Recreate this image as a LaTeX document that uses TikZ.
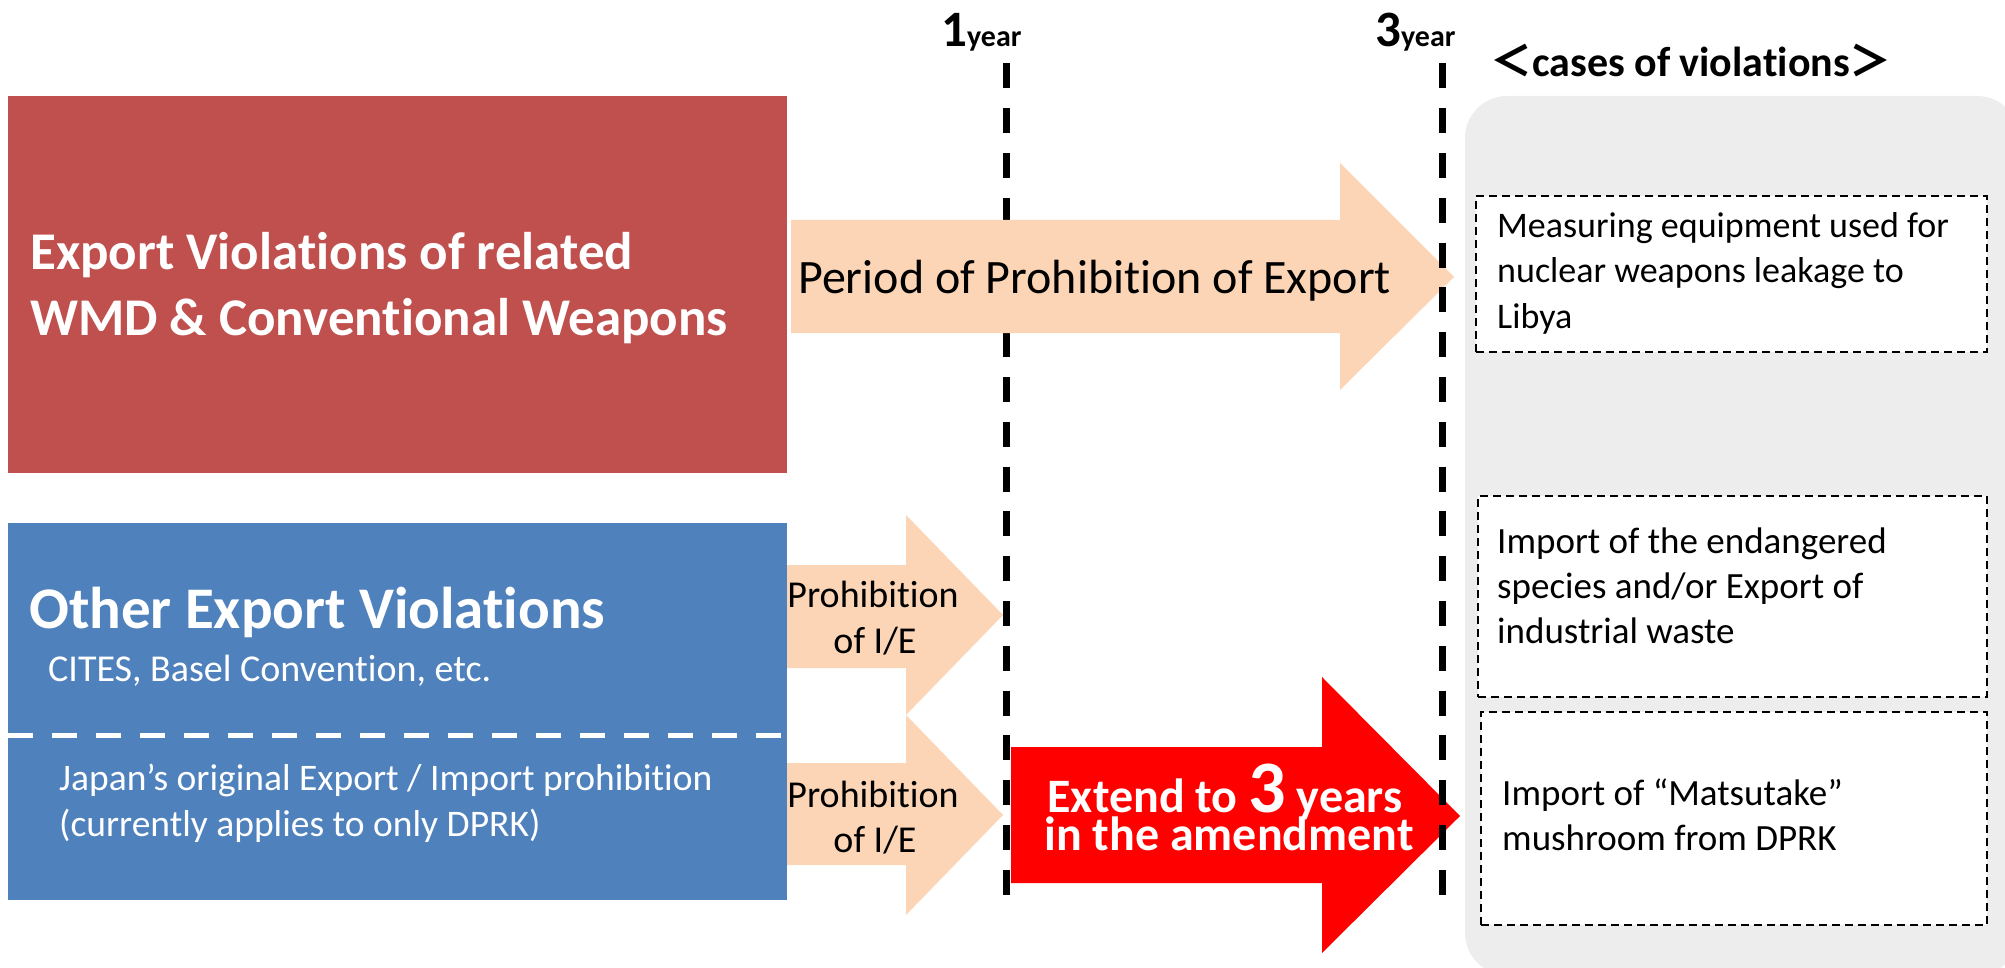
\documentclass[tikz,border=0pt]{standalone}
\usepackage{fontspec}
\setmainfont{Carlito}[RawFeature={-liga}]
\newfontfamily\cjkfont{Noto Sans CJK JP}
\definecolor{wmdred}{HTML}{C0504D}
\definecolor{otherblue}{HTML}{4F81BD}
\definecolor{peach}{HTML}{FBD5B5}
\definecolor{panelgray}{HTML}{EDEDED}
\definecolor{brightred}{HTML}{FF0000}
\newcommand\pxfont[1]{\fontsize{#1pt}{#1pt}\selectfont}
\begin{document}
\begin{tikzpicture}[x=1pt,y=-1pt,
  blockbox/.style={inner sep=0pt, outer sep=0pt, anchor=north west},
  txt/.style={inner sep=0pt, anchor=base west},
  ctxt/.style={inner sep=0pt, anchor=base},
  casebox/.style={blockbox, fill=white, draw=black, line width=1.8pt, dash pattern=on 8pt off 5pt},
  yearline/.style={line width=7pt, dash pattern=on 25pt off 19.8pt},
  peacharrow/.style={fill=peach},
]
\useasboundingbox (0,0) rectangle (2005,968);
% grey panel
\begin{scope}
\clip (0,0) rectangle (2005,968);
\node[blockbox, fill=panelgray, rounded corners=42pt, minimum width=554pt, minimum height=879pt] (panel) at (1465,96) {};
\end{scope}
% left blocks
\node[blockbox, fill=wmdred, minimum width=779pt, minimum height=377pt] (wmd) at (8,96) {};
\node[blockbox, fill=otherblue, minimum width=779pt, minimum height=377pt] (other) at (8,523) {};
\coordinate (sepL) at (8,735);
\coordinate (sepR) at (787,735);
\draw[white, line width=5pt, dash pattern=on 25pt off 19pt] (sepL) -- (sepR);
% texts in blocks
\node[txt, text=white, font=\bfseries\pxfont{53}] (wmdA) at (30,270) {Export Violations of related};
\node[txt, text=white, font=\bfseries\pxfont{53}] (wmdB) at (30,335) {WMD \& Conventional Weapons};
\node[txt, text=white, font=\bfseries\pxfont{59}] (othA) at (29,628) {Other Export Violations};
\node[txt, text=white, font=\pxfont{38}] (othB) at (48,681) {CITES, Basel Convention, etc.};
\node[txt, text=white, font=\pxfont{37.5}] (othC) at (59,790) {Japan’s original Export / Import prohibition};
\node[txt, text=white, font=\pxfont{37.5}] (othD) at (59,836) {(currently applies to only DPRK)};
% 1 year line (under the period arrow)
\coordinate (y1top) at (1006.5,63.4);
\coordinate (y1bot) at (1006.5,895.4);
\draw[yearline] (y1top) -- (y1bot);
% period arrow
\fill[peacharrow] (791,220) -- (1340,220) -- (1340,163) -- (1454,277) -- (1340,390) -- (1340,333) -- (791,333) -- cycle;
\node[txt, font=\pxfont{48}] (period) at (798,294) {Period of Prohibition of Export};
% small arrows
\fill[peacharrow] (787,565) -- (906,565) -- (906,515) -- (1003,615) -- (906,715) -- (906,668) -- (787,668) -- cycle;
\fill[peacharrow] (787,763) -- (906,763) -- (906,715) -- (1003,815) -- (906,915) -- (906,865) -- (787,865) -- cycle;
\node[ctxt, font=\pxfont{38}] (pA1) at (873,607) {Prohibition};
\node[ctxt, font=\pxfont{38}] (pA2) at (875,653) {of I/E};
\node[ctxt, font=\pxfont{38}] (pB1) at (873,807) {Prohibition};
\node[ctxt, font=\pxfont{38}] (pB2) at (875,852) {of I/E};
% red arrow
\fill[brightred] (1011,747) -- (1322,747) -- (1322,677) -- (1460,816) -- (1322,953) -- (1322,883) -- (1011,883) -- cycle;
\node[ctxt, text=white, font=\bfseries\pxfont{48}] (extA) at (1225,812) {Extend to {\pxfont{74}3} years};
\node[ctxt, text=white, font=\bfseries\pxfont{48}] (extB) at (1229,850) {in the amendment};
% 3 year line
\coordinate (y3top) at (1442.5,63.4);
\coordinate (y3bot) at (1442.5,895.4);
\draw[yearline] (y3top) -- (y3bot);
% year labels
\node[txt, font=\bfseries\pxfont{51}] (one) at (941,47) {1{\pxfont{30}year}};
\node[txt, font=\bfseries\pxfont{51}] (three) at (1375,47) {3{\pxfont{30}year}};
% cases header
\node[txt, font=\bfseries\pxfont{42}] (cases) at (1490,77) {{\cjkfont ＜}cases of violations{\cjkfont ＞}};
% case boxes
\node[casebox, minimum width=511pt, minimum height=156pt] (case1) at (1476,196) {};
\node[txt, font=\pxfont{36}] (c1a) at (1497,238) {Measuring equipment used for};
\node[txt, font=\pxfont{36}] (c1b) at (1497,283) {nuclear weapons leakage to};
\node[txt, font=\pxfont{36}] (c1c) at (1497,328) {Libya};
\node[casebox, minimum width=509pt, minimum height=201pt] (case2) at (1478,496) {};
\node[txt, font=\pxfont{37}] (c2a) at (1497,553) {Import of the endangered};
\node[txt, font=\pxfont{37}] (c2b) at (1497,598) {species and/or Export of};
\node[txt, font=\pxfont{37}] (c2c) at (1497,643) {industrial waste};
\node[casebox, minimum width=506pt, minimum height=213pt] (case3) at (1481,712) {};
\node[txt, font=\pxfont{37}] (c3a) at (1502,805) {Import of “Matsutake”};
\node[txt, font=\pxfont{37}] (c3b) at (1502,850) {mushroom from DPRK};
\end{tikzpicture}
\end{document}
